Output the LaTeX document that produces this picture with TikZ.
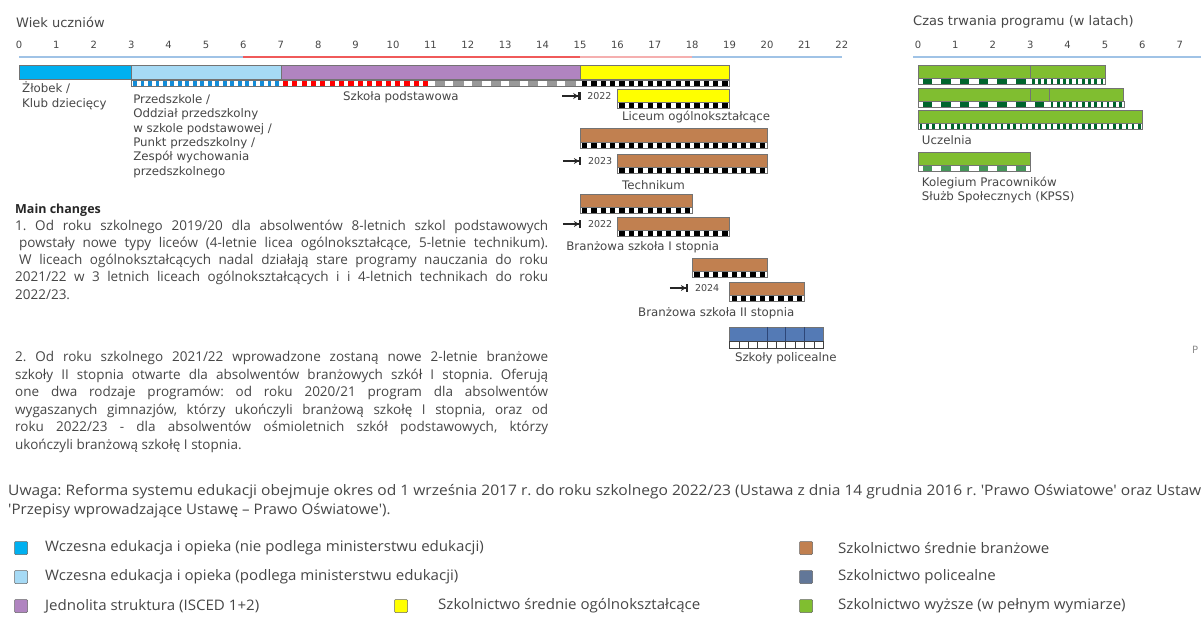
\documentclass[tikz,border=0pt]{standalone}
\usepackage{fontspec}
\setmainfont{DejaVu Sans}
\newfontfamily\notefont{Open Sans}
\usepackage{graphicx}
\usepackage{tikz}
\usetikzlibrary{arrows.meta}
\usetikzlibrary{calc}

\definecolor{czlobek}{RGB}{0,176,240}
\definecolor{cprzed}{RGB}{166,218,245}
\definecolor{cpodst}{RGB}{176,132,192}
\definecolor{cliceum}{RGB}{255,255,0}
\definecolor{cbranz}{RGB}{193,128,80}
\definecolor{cpolic}{RGB}{84,122,181}
\definecolor{cpolicdk}{RGB}{45,70,120}
\definecolor{cwyzsze}{RGB}{128,190,48}
\definecolor{cdkgreen}{RGB}{0,100,45}
\definecolor{cmdgreen}{RGB}{70,150,90}
\definecolor{cstripe}{RGB}{20,140,215}
\definecolor{caxisblue}{RGB}{160,195,230}
\definecolor{caxisred}{RGB}{240,90,90}
\definecolor{caxispink}{RGB}{245,175,175}
\definecolor{ctext}{RGB}{70,70,70}

% one row of small cells under a bar
\newcommand{\cellrow}[6]{%
  \foreach \k in {1,...,#4}
    \fill[#6] ({#1+(\k-0.5)*#3-#5/2},#2) rectangle ++(#5,6);}

% justified text line
\newsavebox\jbox
\newcommand{\jline}[2]{\sbox\jbox{#2}%
  \ifdim\wd\jbox>#1\relax\resizebox{#1}{\height}{\usebox\jbox}\else\makebox[#1][s]{#2}\fi}
\def\uwx{1.04}
\frenchspacing

\begin{document}
\begin{tikzpicture}[x=1pt, y=-1pt,
	bar/.style={draw=black!55, line width=.5pt},
	frame/.style={draw=black!55, line width=.4pt},
	lbl/.style={font=\fontsize{11.8}{14.4}\selectfont, text=ctext, inner sep=0pt, align=left},
	tick/.style={font=\fontsize{10}{12}\selectfont, text=ctext, inner sep=0pt},
	yr/.style={font=\fontsize{9.5}{11}\selectfont, text=ctext, inner sep=0pt, anchor=west},
	startmark/.style={-{Stealth[length=5pt,width=6pt]Bar[width=8pt,line width=2.4pt,sep=1.5pt]}, line width=1.2pt, black!85},
	note/.style={font=\notefont\fontsize{13.5}{17}\selectfont, text=ctext, inner sep=0pt, anchor=west},
	legend/.style={font=\notefont\fontsize{14.5}{17}\selectfont, text=ctext, inner sep=0pt, anchor=west},
	legbox/.style={draw=black!60, line width=.5pt, minimum size=13pt, inner sep=0pt, rounded corners=1pt}]
	\useasboundingbox (0,0) rectangle (1201,621);

	% age of pupils
	\node[anchor=west, font=\fontsize{13}{15}\selectfont, text=ctext, inner sep=0pt] (wiek) at (16,22) {Wiek uczniów};
	\begin{scope}[shift={(19,0)}, x=37.4pt]
		\foreach \a in {0,...,22}
			\node[tick] (t\a) at (\a,45) {\a};
		\draw[caxisblue, line width=1.2pt] (0,57) -- (6,57);
		\draw[caxisred, line width=2pt] (6,57) -- (15,57);
		\draw[caxispink, line width=1.5pt] (15,57) -- (18,57);
		\draw[caxisblue, line width=1.2pt] (18,57) -- (22,57);

		% first row
		\filldraw[bar, fill=czlobek] (0,65) rectangle (3,79);
		\filldraw[bar, fill=cprzed] (3,65) rectangle (7,79);
		\filldraw[bar, fill=cpodst] (7,65) rectangle (15,79);
		\filldraw[bar, fill=cliceum] (15,65) rectangle (19,79);
		\cellrow{3}{80}{.2}{20}{.1}{cstripe}
		\cellrow{7}{80}{.25}{16}{.14}{red}
		\cellrow{11}{80}{.5}{8}{.28}{black!40}
		\cellrow{15}{80}{.25}{16}{.14}{black}
		\draw[frame] (3,80) rectangle (19,86);

		\node[lbl, anchor=west] (zlobek) at (0.08,96) {Żłobek /\\Klub dziecięcy};
		\node[lbl, anchor=west] (przedszk) at (3.05,136) {Przedszkole /\\Oddział przedszkolny\\w szkole podstawowej /\\Punkt przedszkolny /\\Zespół wychowania\\przedszkolnego};
		\node[lbl, anchor=west] (podst) at (8.66,97) {Szkoła podstawowa};

		% liceum
		\filldraw[bar, fill=cliceum] (16,89) rectangle (19,102);
		\cellrow{16}{102.5}{.25}{12}{.14}{black}
		\draw[frame] (16,102.5) rectangle (19,108.5);
		\node[yr] (ylic) at (15.19,96) {2022};
		\coordinate (mlic) at ($(ylic.west)+(-25pt,0)$);
		\draw[startmark] (mlic) -- ($(ylic.west)+(-5pt,0)$);
		\node[lbl, anchor=west] (liceum) at (16.12,117) {Liceum ogólnokształcące};

		% technikum
		\filldraw[bar, fill=cbranz] (15,128) rectangle (20,142);
		\cellrow{15}{142.5}{.25}{20}{.14}{black}
		\draw[frame] (15,142.5) rectangle (20,148.5);
		\filldraw[bar, fill=cbranz] (16,154) rectangle (20,167);
		\cellrow{16}{167.5}{.25}{16}{.14}{black}
		\draw[frame] (16,167.5) rectangle (20,173.5);
		\node[yr] (ytech) at (15.21,161) {2023};
		\coordinate (mtech) at ($(ytech.west)+(-25pt,0)$);
		\draw[startmark] (mtech) -- ($(ytech.west)+(-5pt,0)$);
		\node[lbl, anchor=west] (techn) at (16.12,185) {Technikum};

		% branzowa I
		\filldraw[bar, fill=cbranz] (15,194) rectangle (18,207);
		\cellrow{15}{207.5}{.25}{12}{.14}{black}
		\draw[frame] (15,207.5) rectangle (18,213.5);
		\filldraw[bar, fill=cbranz] (16,217) rectangle (19,230);
		\cellrow{16}{230.5}{.25}{12}{.14}{black}
		\draw[frame] (16,230.5) rectangle (19,236.5);
		\node[yr] (ybr1) at (15.21,224) {2022};
		\coordinate (mbr1) at ($(ybr1.west)+(-25pt,0)$);
		\draw[startmark] (mbr1) -- ($(ybr1.west)+(-5pt,0)$);
		\node[lbl, anchor=west] (branz1) at (14.63,247) {Branżowa szkoła I stopnia};

		% branzowa II
		\filldraw[bar, fill=cbranz] (18,258) rectangle (20,271);
		\cellrow{18}{271.5}{.25}{8}{.14}{black}
		\draw[frame] (18,271.5) rectangle (20,277.5);
		\filldraw[bar, fill=cbranz] (19,282) rectangle (21,295);
		\cellrow{19}{295.5}{.25}{8}{.14}{black}
		\draw[frame] (19,295.5) rectangle (21,301.5);
		\node[yr] (ybr2) at (18.07,288) {2024};
		\coordinate (mbr2) at ($(ybr2.west)+(-25pt,0)$);
		\draw[startmark] (mbr2) -- ($(ybr2.west)+(-5pt,0)$);
		\node[lbl, anchor=west] (branz2) at (16.55,313) {Branżowa szkoła II stopnia};

		% policealne
		\filldraw[bar, fill=cpolic] (19,327) rectangle (21.5,341);
		\foreach \d in {20,20.5,21}
			\draw[cpolicdk, line width=.6pt] (\d,327) -- (\d,341);
		\foreach \k in {0,...,9}
			\draw[black!75, line width=.5pt] ({19+\k*.25},341.5) rectangle ++(.25,7);
		\node[lbl, anchor=west] (polic) at (19.14,358) {Szkoły policealne};
	\end{scope}

	% duration of programme
	\node[anchor=west, font=\fontsize{13}{15}\selectfont, text=ctext, inner sep=0pt] (czas) at (913,22) {Czas trwania programu (w latach)};
	\begin{scope}[shift={(918,0)}, x=37.4pt]
		\foreach \a in {0,...,7}
			\node[tick] (r\a) at (\a,45) {\a};
		\draw[caxisblue, line width=1.2pt] (-0.13,57) -- (7.6,57);

		\filldraw[bar, fill=cwyzsze] (0,65) rectangle (5,78);
		\draw[bar] (3,65) -- (3,78);
		\cellrow{0}{78.5}{.5}{6}{.25}{cdkgreen}
		\cellrow{3}{78.5}{.1667}{12}{.07}{cdkgreen}
		\draw[frame] (0,78.5) rectangle (5,84.5);

		\filldraw[bar, fill=cwyzsze] (0,88) rectangle (5.5,101);
		\draw[bar] (3,88) -- (3,101);
		\draw[bar] (3.5,88) -- (3.5,101);
		\cellrow{0}{101.5}{.5}{7}{.25}{cdkgreen}
		\cellrow{3.5}{101.5}{.1667}{12}{.07}{cdkgreen}
		\draw[frame] (0,101.5) rectangle (5.5,107.5);

		\filldraw[bar, fill=cwyzsze] (0,110) rectangle (6,123);
		\cellrow{0}{123.5}{.1667}{36}{.07}{cdkgreen}
		\draw[frame] (0,123.5) rectangle (6,129.5);
		\node[lbl, anchor=west] (uczelnia) at (0.1,140) {Uczelnia};

		\filldraw[bar, fill=cwyzsze] (0,152) rectangle (3,165);
		\cellrow{0}{165.5}{.5}{6}{.25}{cmdgreen}
		\draw[frame] (0,165.5) rectangle (3,171.5);
		\node[lbl, anchor=west] (kpss) at (0.1,190) {Kolegium Pracowników\\Służb Społecznych (KPSS)};
	\end{scope}
	\node[anchor=west, font=\fontsize{10}{12}\selectfont, text=black!45, inner sep=0pt] (pcut) at (1192,350) {P};

	% main changes
	\node[note, font=\notefont\bfseries\fontsize{12.5}{14}\selectfont, text=black!85] (mainch) at (15,210) {Main changes};
	\node[note] (p1a) at (15,227) {\jline{533pt}{1. Od roku szkolnego 2019/20 dla absolwentów 8-letnich szkol podstawowych}};
	\node[note] (p1b) at (19,244) {\jline{529pt}{powstały nowe typy liceów (4-letnie licea ogólnokształcące, 5-letnie technikum).}};
	\node[note] (p1c) at (19,261) {\jline{529pt}{W liceach ogólnokształcących nadal działają stare programy nauczania do roku}};
	\node[note] (p1d) at (15,278) {\jline{533pt}{2021/22 w 3 letnich liceach ogólnokształcących i i 4-letnich technikach do roku}};
	\node[note] (p1e) at (15,295) {2022/23.};

	\node[note] (p2a) at (15,358) {\jline{533pt}{2. Od roku szkolnego 2021/22 wprowadzone zostaną nowe 2-letnie branżowe}};
	\node[note] (p2b) at (15,375.5) {\jline{533pt}{szkoły II stopnia otwarte dla absolwentów branżowych szkół I stopnia. Oferują}};
	\node[note] (p2c) at (15,393) {\jline{533pt}{one dwa rodzaje programów: od roku 2020/21 program dla absolwentów}};
	\node[note] (p2d) at (15,410.5) {\jline{533pt}{wygaszanych gimnazjów, którzy ukończyli branżową szkołę I stopnia, oraz od}};
	\node[note] (p2e) at (15,428) {\jline{533pt}{roku 2022/23 - dla absolwentów ośmioletnich szkół podstawowych, którzy}};
	\node[note] (p2f) at (15,445.5) {ukończyli branżową szkołę I stopnia.};

	% note on the reform
	\node[legend] (uwaga1) at (8,492) {\resizebox{1193pt}{\height}{Uwaga: Reforma systemu edukacji obejmuje okres od 1 września 2017 r. do roku szkolnego 2022/23 (Ustawa z dnia 14 grudnia 2016 r. 'Prawo Oświatowe' oraz Ustaw}};
	\node[legend] (uwaga2) at (8,511) {\scalebox{\uwx}[1]{'Przepisy wprowadzające Ustawę – Prawo Oświatowe').}};

	% legend
	\node[legbox, fill=czlobek] (lg1) at (21,548) {};
	\node[legend] (lt1) at (45,548) {\scalebox{\uwx}[1]{Wczesna edukacja i opieka (nie podlega ministerstwu edukacji)}};
	\node[legbox, fill=cprzed] (lg2) at (21,577) {};
	\node[legend] (lt2) at (45,577) {\scalebox{\uwx}[1]{Wczesna edukacja i opieka (podlega ministerstwu edukacji)}};
	\node[legbox, fill=cpodst] (lg3) at (21,606) {};
	\node[legend] (lt3) at (45,606) {\scalebox{\uwx}[1]{Jednolita struktura (ISCED 1+2)}};
	\node[legbox, fill=cliceum] (lg4) at (401,606) {};
	\node[legend] (lt4) at (438,606) {\scalebox{\uwx}[1]{Szkolnictwo średnie ogólnokształcące}};
	\node[legbox, fill=cbranz] (lg5) at (806,548) {};
	\node[legend] (lt5) at (838,548) {\scalebox{\uwx}[1]{Szkolnictwo średnie branżowe}};
	\node[legbox, fill=cpolic!70!black!80] (lg6) at (806,577) {};
	\node[legend] (lt6) at (838,577) {\scalebox{\uwx}[1]{Szkolnictwo policealne}};
	\node[legbox, fill=cwyzsze] (lg7) at (806,606) {};
	\node[legend] (lt7) at (838,606) {\scalebox{\uwx}[1]{Szkolnictwo wyższe (w pełnym wymiarze)}};
\end{tikzpicture}
\end{document}
